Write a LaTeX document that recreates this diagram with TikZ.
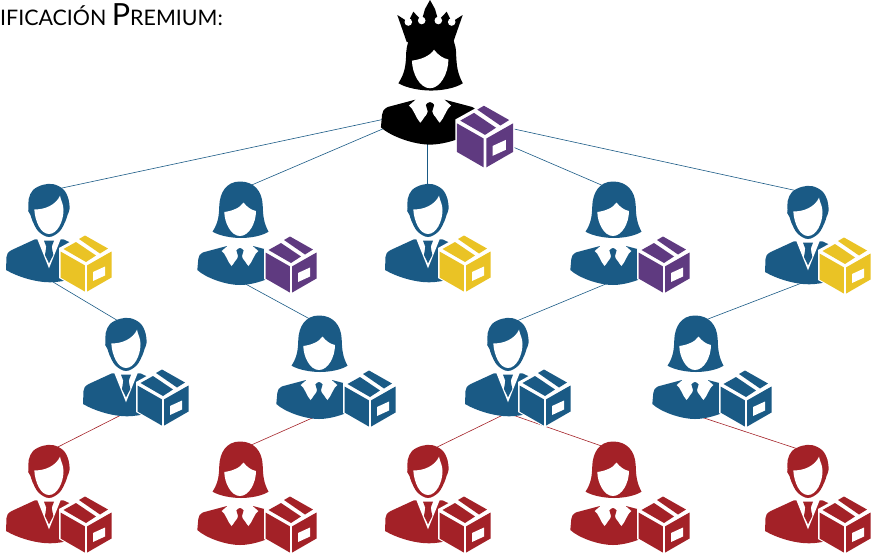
\documentclass[tikz,border=0pt]{standalone}
\usepackage{fontspec}
\setmainfont{Lato}
\usetikzlibrary{backgrounds}
\definecolor{linkblue}{HTML}{1A5A85}
\definecolor{linkred}{HTML}{A32127}
\definecolor{boxyellow}{HTML}{EAC325}
\definecolor{boxpurple}{HTML}{5F3A80}
\tikzset{
  pics/manfig/.style={code={
    \fill[#1] plot[smooth cycle, tension=0.6] coordinates {(-19.5,24) (-19.3,15) (-15,6) (-5,0.8) (5.5,0.2) (15.5,5.5) (20.5,15) (21.5,25) (19.5,31) (17.5,37) (11.5,47.5) (1,53) (-9.5,47.5) (-15.5,37) (-17.5,31) (-19.8,27)};
    \fill[white] (-13.7,25.3) .. controls (-4,26) and (8,21) .. (12,11.7) .. controls (13,17) and (15.5,20) .. (15.5,26) .. controls (15.5,38) and (9,50) .. (1,50) .. controls (-7,50) and (-13,38) .. (-13.7,25.3) -- cycle;
    \fill[#1] (-13,55.3) -- (-36.3,66) .. controls (-40,68) and (-41.5,70) .. (-41.5,73) -- (-42,86) .. controls (-30,93) and (-12,98.3) .. (2,98.3) .. controls (16,98.3) and (34,93) .. (44,86) -- (43.5,73) .. controls (43.5,70) and (42,68) .. (38.3,66) -- (15.3,55.3) -- cycle;
    \fill[white] (-10.7,55) -- (1,84.3) -- (12.7,55) -- cycle;
    \fill[#1] (-4,56.7) -- (6,56.7) -- (3.7,62.7) -- (5.3,71) -- (1,79.3) -- (-3,71) -- (-1.7,62.7) -- cycle;
    \coordinate (-top) at (0,7);
    \coordinate (-bot) at (0,95);
  }},
  pics/womanfig/.style={code={
    \fill[#1] (0,0.5) .. controls (-14,0.5) and (-20,12) .. (-20.7,24) .. controls (-21,36) and (-22,42) .. (-27.5,50.7) .. controls (-20,55) and (-8,57) .. (1,57) .. controls (10,57) and (22,55) .. (28.5,50.7) .. controls (24,42) and (23,36) .. (22.7,24) .. controls (22,10) and (14,0.5) .. (0,0.5) -- cycle;
    \fill[white] (-15.7,31) .. controls (-8,30) and (0,27) .. (3.5,21.5) .. controls (7,26) and (11,29) .. (16,30) .. controls (16,42) and (9,55) .. (0,55) .. controls (-9,55) and (-15.5,42) .. (-15.7,31) -- cycle;
    \fill[#1] (-13,65) -- (-36.7,71.3) .. controls (-40,73) and (-41.7,75) .. (-41.7,78) -- (-42.7,89) .. controls (-34,97) and (-14,104) .. (0,104) .. controls (14,104) and (34,97) .. (42.7,89) -- (41.7,78) .. controls (41.7,75) and (40,73) .. (36.7,71.3) -- (13,65) -- cycle;
    \fill[white] (-12,64.5) -- (12,64.5) -- (18.3,70) .. controls (14,73) and (13,80) .. (8.5,85) .. controls (6,83) and (5,78) .. (0,76) .. controls (-5,78) and (-6,83) .. (-8.5,85) .. controls (-13,80) and (-14,73) .. (-18.3,70) -- cycle;
    \fill[#1] plot[smooth cycle] coordinates {(0,67) (3.6,69.5) (2,75) (4.4,83) (0,88) (-4.4,83) (-2,75) (-3.6,69.5)};
    \coordinate (-top) at (0,9);
    \coordinate (-bot) at (0,100);
  }},
  pics/crownfig/.style={code={
    \fill[black] (-32.7,15) -- (-21.7,22) -- (-16.7,11.7) -- (-8.3,20.5) -- (-5,9) -- (0,0) -- (5,9) -- (8.3,20.5) -- (16.7,11.7) -- (21.7,22) -- (32.7,15) -- (23.3,42) -- (-23.3,42) -- cycle;
    \foreach \cx/\cy in {-21.7/22,-8.3/20.5,8.3/20.5,21.7/22}
      \fill[white] (\cx,\cy) circle (3.8);
  }},
  pics/boxfig/.style={code={
    \fill[white] (0,-30) -- (27,-15) -- (27,15) -- (0,30.5) -- (-27,15) -- (-27,-15) -- cycle;
    \fill[#1] (-25.5,-11.5) -- (-1.2,2.3) -- (-1.2,28.5) -- (-25.5,14.5) -- cycle;
    \fill[#1] (1.2,2.3) -- (25.5,-11.5) -- (25.5,14.5) -- (1.2,28.5) -- cycle;
    \fill[#1] (-22.5,-14) -- (-10,-21) -- (10,-7.5) -- (0,-1) -- cycle;
    \fill[#1] (-7,-24) -- (-1,-27.5) -- (22,-14.5) -- (14,-9.5) -- cycle;
    \fill[white] (7,9) -- (19,3.5) -- (19,12.5) -- (7,18) -- cycle;
  }},
}

\begin{document}
\begin{tikzpicture}[x=1pt,y=-1pt,
    link/.style={line width=0.6pt,draw=linkblue},
    linkr/.style={line width=0.6pt,draw=linkred},
  ]
  \useasboundingbox (0,0) rectangle (875,552);

  \node[anchor=west,inner sep=0pt] (title) at (0,15) {\fontsize{21.4}{21}\selectfont IFICACIÓN \fontsize{30.5}{30}\selectfont P\fontsize{21.4}{21}\selectfont REMIUM:};

  % top
  \pic (root) at (430,25) [scale=1.15] {womanfig=black};
  \pic (crown) at (430,0) {crownfig};
  \pic (rootbox) at (485,136) [scale=1.1] {boxfig=boxpurple};
  \coordinate (hub) at (427,110);

  % men
  \foreach \n/\x/\y/\c/\b in {a/48/184/linkblue/boxyellow, c/427/184/linkblue/boxyellow, e/807/186/linkblue/boxyellow,
      f/125/318/linkblue/linkblue, h/507/318/linkblue/linkblue,
      k/48/445/linkred/linkred, m/427/445/linkred/linkred, o/807/445/linkred/linkred} {
    \pic (\n) at (\x,\y) {manfig=\c};
    \pic (\n box) at (\x+38,\y+79) {boxfig=\b};
  }
  % women
  \foreach \n/\x/\y/\c/\b in {b/240/181/linkblue/boxpurple, d/613/181/linkblue/boxpurple,
      g/319/315/linkblue/linkblue, j/695/315/linkblue/linkblue,
      l/240/441/linkred/linkred, n/613/441/linkred/linkred} {
    \pic (\n) at (\x,\y) {womanfig=\c};
    \pic (\n box) at (\x+51,\y+83) {boxfig=\b};
  }

  \begin{scope}[on background layer]
    \foreach \t in {a,b,c,d,e}
      \draw[link] (hub) -- (\t-top);
    \draw[link] (a-bot) -- (f-top);
    \draw[link] (b-bot) -- (g-top);
    \draw[link] (d-bot) -- (h-top);
    \draw[link] (e-bot) -- (j-top);
    \draw[linkr] (f-bot) -- (k-top);
    \draw[linkr] (g-bot) -- (l-top);
    \draw[linkr] (h-bot) -- (m-top);
    \draw[linkr] (h-bot) -- (n-top);
    \draw[linkr] (j-bot) -- (o-top);
  \end{scope}
\end{tikzpicture}
\end{document}
